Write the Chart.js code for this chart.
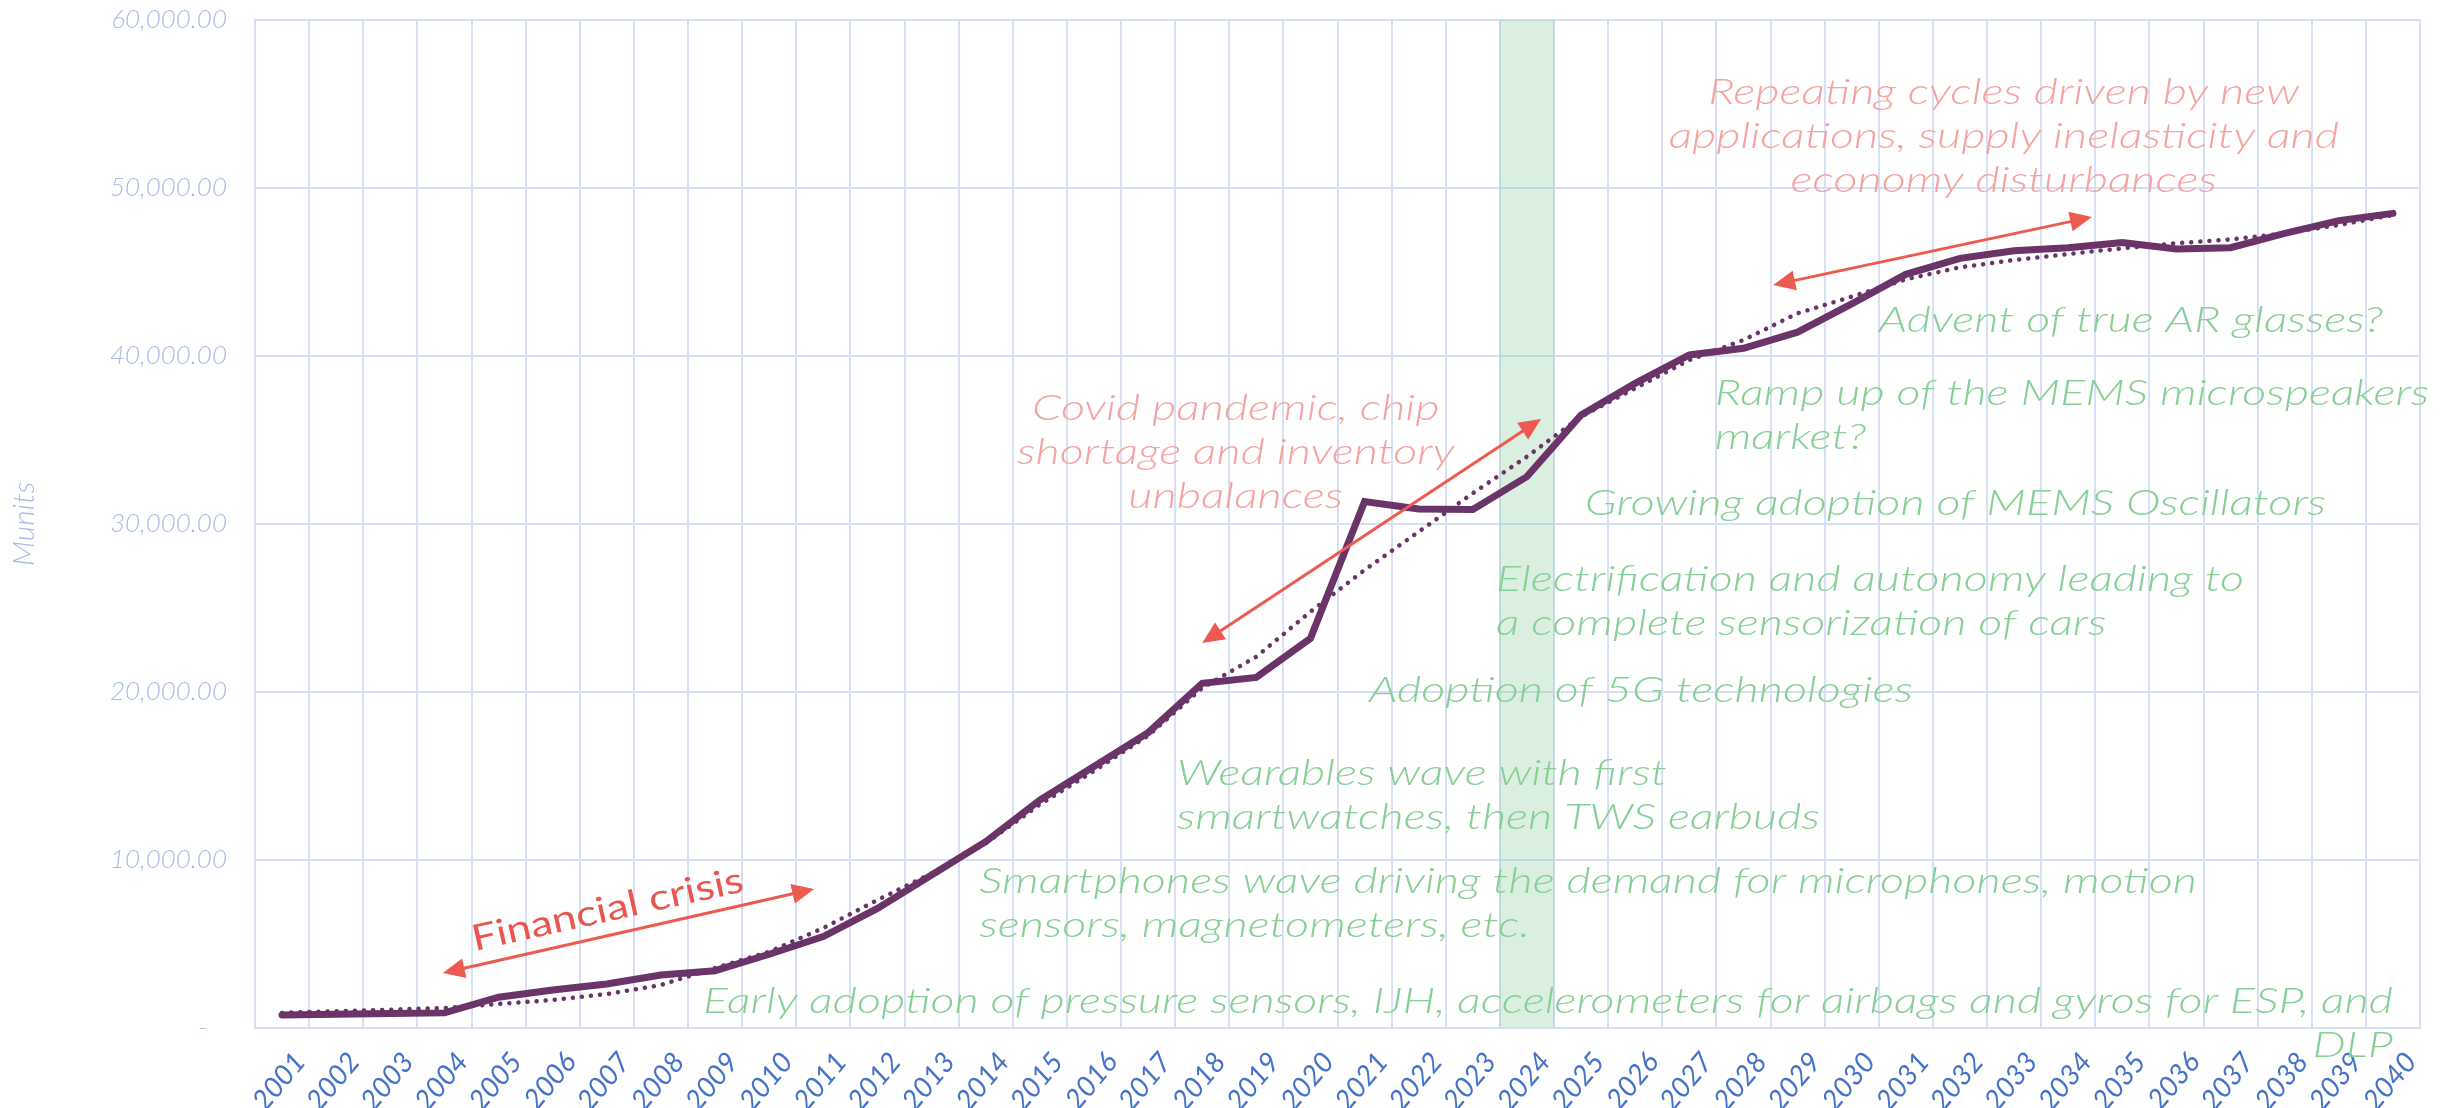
<!DOCTYPE html>
<html>
<head>
<meta charset="utf-8">
<script src="https://cdn.jsdelivr.net/npm/chart.js@4.4.1/dist/chart.umd.min.js"></script>
<style>
  html, body { margin: 0; padding: 0; background: #fff; }
  #wrap { width: 2453px; height: 1108px; position: relative; }
</style>
</head>
<body>
<div id="wrap"><canvas id="memsChart"></canvas></div>
<script>
// --- data ---
const years = ["2001", "2002", "2003", "2004", "2005", "2006", "2007", "2008", "2009", "2010",
               "2011", "2012", "2013", "2014", "2015", "2016", "2017", "2018", "2019", "2020",
               "2021", "2022", "2023", "2024", "2025", "2026", "2027", "2028", "2029", "2030",
               "2031", "2032", "2033", "2034", "2035", "2036", "2037", "2038", "2039", "2040"];
const units = [780, 820, 860, 900, 1830, 2260, 2620, 3150, 3410, 4390,
               5440, 7120, 9110, 11090, 13570, 15560, 17580, 20520, 20870, 23190,
               31330, 30890, 30870, 32820, 36490, 38370, 40060, 40460, 41420, 43100,
               44860, 45810, 46270, 46450, 46750, 46370, 46450, 47300, 48060, 48490];
const trend = [900, 1000, 1090, 1190, 1430, 1670, 2020, 2560, 3570, 4540,
               5950, 7620, 9200, 11000, 13300, 15300, 17400, 20240, 22100, 24780,
               27260, 29540, 31830, 34010, 36390, 38080, 39760, 40950, 42540, 43530,
               44560, 45280, 45710, 46070, 46410, 46710, 46940, 47300, 47800, 48390];
const yTicks = [0, 10000, 20000, 30000, 40000, 50000, 60000];
const highlightYear = "2024";

// --- annotations (x = category index, y = value) ---
const greenNotes = [
    { lines: ["Early adoption of pressure sensors, IJH, accelerometers for airbags and gyros for ESP, and", "DLP"], x: 39.0, y: 893, align: "right" },
    { lines: ["Smartphones wave driving the demand for microphones, motion", "sensors, magnetometers, etc."], x: 12.88, y: 8036, align: "left" },
    { lines: ["Wearables wave with first", "smartwatches, then TWS earbuds"], x: 16.53, y: 14464, align: "left" },
    { lines: ["Adoption of 5G technologies"], x: 20.08, y: 19405, align: "left" },
    { lines: ["Electrification and autonomy leading to", "a complete sensorization of cars"], x: 22.43, y: 26012, align: "left" },
    { lines: ["Growing adoption of MEMS Oscillators"], x: 24.07, y: 30536, align: "left" },
    { lines: ["Ramp up of the MEMS microspeakers", "market?"], x: 26.47, y: 37083, align: "left" },
    { lines: ["Advent of true AR glasses?"], x: 29.5, y: 41429, align: "left" }
];
const pinkNotes = [
    { lines: ["Covid pandemic, chip", "shortage and inventory", "unbalances"], x: 17.62, y: 36190, align: "center" },
    { lines: ["Repeating cycles driven by new", "applications, supply inelasticity and", "economy disturbances"], x: 31.81, y: 55000, align: "center" }
];
const arrows = [
    { from: [2.97, 3274], to: [9.83, 8274] },
    { from: [17.0, 22917], to: [23.26, 36250] },
    { from: [27.55, 44226], to: [33.44, 48274] }
];
const crisisLabel = { text: "Financial crisis", x: 6.06, y: 6369, angle: -12.5 };

const GREEN = '#86cf95';
const PINK = '#f4a3a0';
const RED = '#ec5a50';
const LINE = '#6a3468';
const GRID = '#d6dff5';

function drawArrowHead(ctx, x, y, ang) {
    const len = 22, half = 10;
    ctx.beginPath();
    ctx.moveTo(x, y);
    ctx.lineTo(x - len * Math.cos(ang) + half * Math.sin(ang), y - len * Math.sin(ang) - half * Math.cos(ang));
    ctx.lineTo(x - len * Math.cos(ang) - half * Math.sin(ang), y - len * Math.sin(ang) + half * Math.cos(ang));
    ctx.closePath();
    ctx.fill();
}

const notesPlugin = {
    id: 'notes',
    afterDatasetsDraw(chart) {
        const ctx = chart.ctx;
        const xs = chart.scales.x, ys = chart.scales.y;
        ctx.save();
        ctx.font = 'italic 300 35px Lato';
        // stretch so the long green line keeps its width from the picture
        const sx = 1690 / ctx.measureText(greenNotes[0].lines[0]).width;
        ctx.textBaseline = 'alphabetic';

        const drawNote = (n, color) => {
            const px = xs.getPixelForValue(n.x), py = ys.getPixelForValue(n.y);
            ctx.fillStyle = color;
            ctx.textAlign = n.align;
            n.lines.forEach((t, i) => {
                ctx.save();
                ctx.translate(px, py + i * 44);
                ctx.scale(sx, 1);
                ctx.fillText(t, 0, 0);
                ctx.restore();
            });
        };
        greenNotes.forEach(n => drawNote(n, GREEN));
        pinkNotes.forEach(n => drawNote(n, PINK));

        // arrows
        ctx.strokeStyle = RED;
        ctx.fillStyle = RED;
        ctx.lineWidth = 3;
        arrows.forEach(a => {
            const x1 = xs.getPixelForValue(a.from[0]), y1 = ys.getPixelForValue(a.from[1]);
            const x2 = xs.getPixelForValue(a.to[0]), y2 = ys.getPixelForValue(a.to[1]);
            const ang = Math.atan2(y2 - y1, x2 - x1);
            ctx.beginPath();
            ctx.moveTo(x1 + 15 * Math.cos(ang), y1 + 15 * Math.sin(ang));
            ctx.lineTo(x2 - 15 * Math.cos(ang), y2 - 15 * Math.sin(ang));
            ctx.stroke();
            drawArrowHead(ctx, x2, y2, ang);
            drawArrowHead(ctx, x1, y1, ang + Math.PI);
        });

        // financial crisis label
        ctx.font = '400 36px Lato';
        const fsx = 277 / ctx.measureText(crisisLabel.text).width;
        ctx.fillStyle = '#e9564f';
        ctx.textAlign = 'center';
        ctx.translate(xs.getPixelForValue(crisisLabel.x), ys.getPixelForValue(crisisLabel.y));
        ctx.rotate(crisisLabel.angle * Math.PI / 180);
        ctx.scale(fsx, 1);
        ctx.fillText(crisisLabel.text, 0, 0);
        ctx.restore();
    }
};

const ctx = document.getElementById('memsChart').getContext('2d');
new Chart(ctx, {
    type: 'line',
    data: {
        labels: years,
        datasets: [
            {
                type: 'line',
                data: units,
                borderColor: LINE,
                borderWidth: 7,
                borderCapStyle: 'round',
                pointRadius: 0,
                tension: 0,
                order: 1
            },
            {
                type: 'line',
                data: trend,
                borderColor: LINE,
                borderWidth: 4.5,
                borderDash: [0.1, 9],
                borderCapStyle: 'round',
                pointRadius: 0,
                tension: 0,
                order: 2
            },
            {
                type: 'bar',
                data: years.map(y => y === highlightYear ? yTicks[yTicks.length - 1] : null),
                backgroundColor: 'rgba(120, 196, 135, 0.27)',
                barPercentage: 1,
                categoryPercentage: 1,
                order: 3
            }
        ]
    },
    options: {
        responsive: true,
        maintainAspectRatio: false,
        animation: false,
        devicePixelRatio: 1,
        layout: { padding: { top: 20, right: 33, left: 0, bottom: 0 } },
        plugins: { legend: { display: false }, tooltip: { enabled: false } },
        scales: {
            x: {
                offset: true,
                grid: { offset: true, color: GRID, lineWidth: 2, drawTicks: false },
                border: { color: GRID, width: 2 },
                ticks: {
                    color: '#4673c9',
                    font: { family: 'Lato', size: 28, style: 'italic', weight: 400 },
                    maxRotation: 50, minRotation: 50,
                    padding: 18,
                    labelOffset: 18,
                    autoSkip: false
                },
                afterFit(scale) { scale.height = 80; }
            },
            y: {
                min: 0, max: 60000,
                afterBuildTicks(scale) { scale.ticks = yTicks.map(v => ({ value: v })); },
                grid: { color: GRID, lineWidth: 2, drawTicks: false },
                border: { color: GRID, width: 2 },
                ticks: {
                    color: '#a7bae8',
                    font: { family: 'Lato', size: 26, style: 'italic', weight: 300 },
                    padding: 28,
                    callback: v => v === 0 ? '-   ' : v.toLocaleString('en-US', { minimumFractionDigits: 2, maximumFractionDigits: 2 })
                },
                title: {
                    display: true,
                    text: 'Munits',
                    color: '#a7bae8',
                    font: { family: 'Lato', size: 30, style: 'italic', weight: 300 },
                    padding: { top: 6, bottom: 0 }
                },
                afterFit(scale) {
                    scale.width = 255;
                    scale.paddingTop = 0;
                    scale.paddingBottom = 0;
                }
            }
        }
    },
    plugins: [notesPlugin]
});
</script>
</body>
</html>
